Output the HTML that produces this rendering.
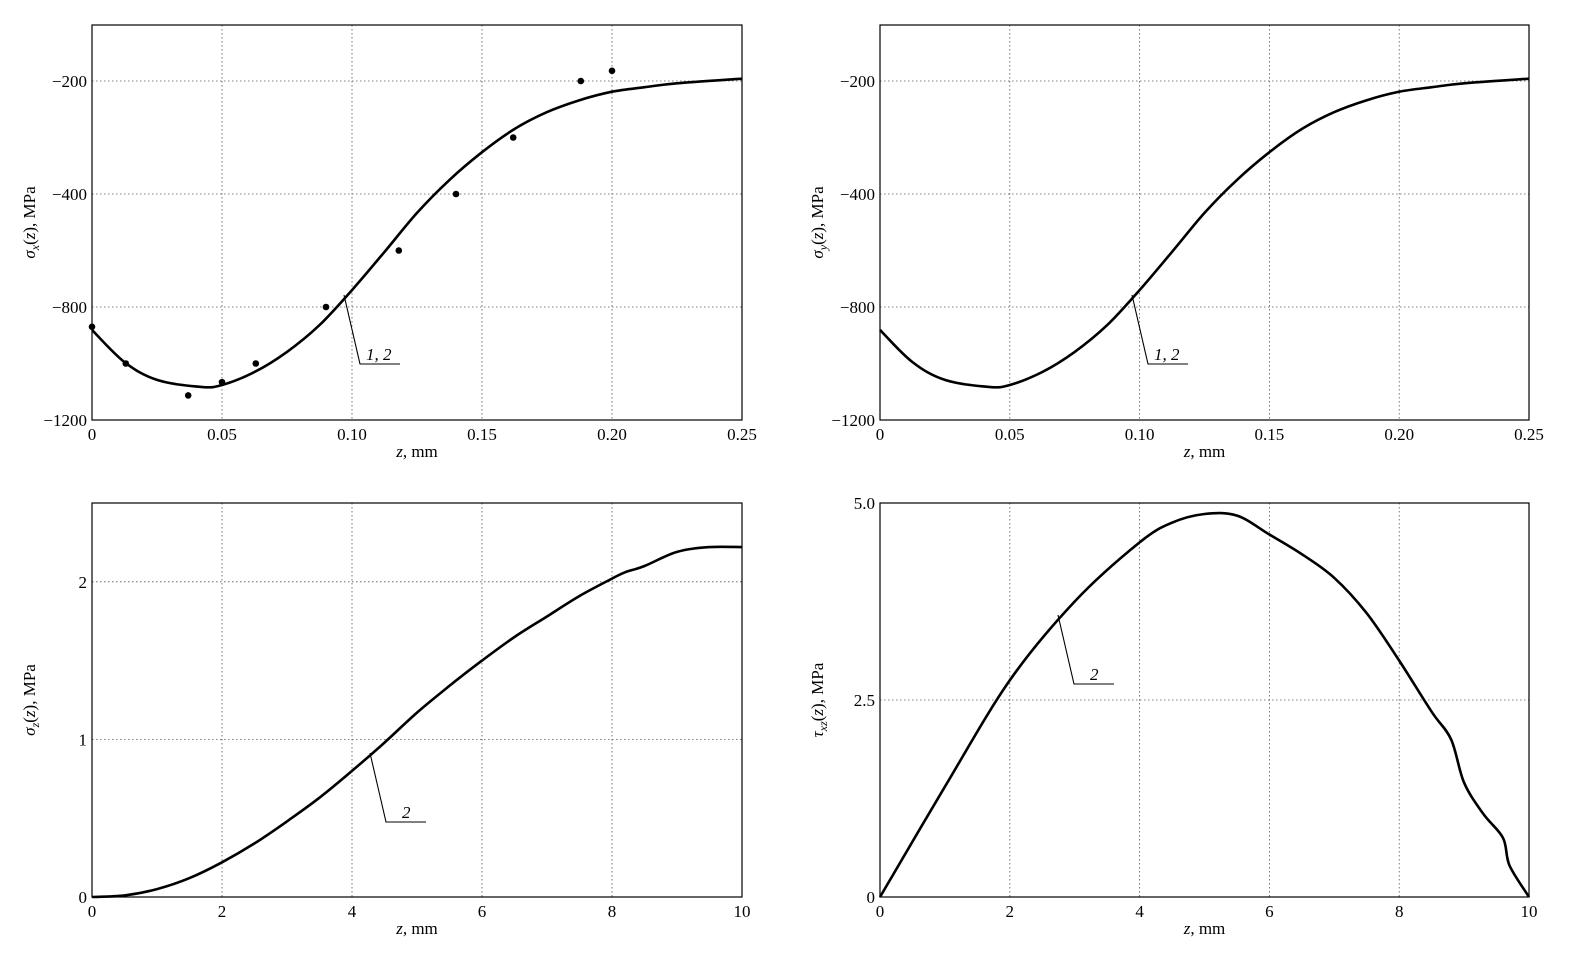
<!DOCTYPE html>
<html><head><meta charset="utf-8"><style>
body{margin:0;background:#fff}
svg{display:block;font-family:"Liberation Serif",serif}
</style></head><body>
<svg id="c" width="1582" height="968"></svg>
<script>
// sigma_x chart data
const sxZ=[0,0.0125,0.025,0.042,0.05,0.0625,0.075,0.0875,0.1,0.1125,0.125,0.1375,0.15,0.1625,0.175,0.1875,0.2,0.2125,0.225,0.25];
const sxV=[-881,-995,-1058,-1083,-1076,-1030,-959,-864,-740,-605,-467,-375,-326,-285,-255,-234,-219,-211,-204,-196];
const ptZ=[0,0.013,0.037,0.05,0.063,0.09,0.118,0.14,0.162,0.188,0.2];
const ptV=[-870,-1000,-1113,-1066,-1000,-800,-600,-400,-300,-200,-182];
const sTicksV=[-1200,-800,-400,-200];
const sTickLabels=["−1200","−800","−400","−200"];
const sxTicks=[0,0.05,0.1,0.15,0.2,0.25];
const sxTickLabels=["0","0.05","0.10","0.15","0.20","0.25"];
// sigma_z data
const szZ=[0,0.5,1,1.5,2,2.5,3,3.5,4,4.5,5,5.5,6,6.5,7,7.5,8,8.2,8.5,9,9.5,10];
const szV=[0,0.01,0.05,0.12,0.22,0.34,0.48,0.63,0.8,0.98,1.17,1.34,1.5,1.65,1.78,1.91,2.02,2.06,2.1,2.19,2.22,2.22];
const szTicks=[0,1,2];
// tau_xz data
const tZ=[0,1,2,3,4,4.5,5,5.5,6,6.5,7,7.5,8,8.5,8.8,9,9.3,9.6,9.7,10];
const tV=[0,1.4,2.75,3.75,4.5,4.75,4.86,4.84,4.6,4.35,4.05,3.6,3.0,2.35,2.0,1.45,1.05,0.75,0.4,0];
const tTicks=[0,2.5,5.0];
const tTickLabels=["0","2.5","5.0"];
const zTicks=[0,2,4,6,8,10];

const svg=document.getElementById('c');
const NS='http://www.w3.org/2000/svg';
function mk(t,a,parent){const e=document.createElementNS(NS,t);for(const k in a)e.setAttribute(k,a[k]);(parent||svg).appendChild(e);return e;}
function txt(s,a,name){const e=mk('text',a);e.textContent=s;return e;}

function sY(v){
  if(v<=-800)return 307+(-800-v)*113/400;
  if(v<=-400)return 194+(-400-v)*113/400;
  return 81+(-200-v)*113/200;
}
function smooth(P){
  let d='M'+P[0][0].toFixed(1)+','+P[0][1].toFixed(1);
  for(let i=0;i<P.length-1;i++){
    const p0=P[i-1]||P[i],p1=P[i],p2=P[i+1],p3=P[i+2]||P[i+1];
    const c1=[p1[0]+(p2[0]-p0[0])/6,p1[1]+(p2[1]-p0[1])/6];
    const c2=[p2[0]-(p3[0]-p1[0])/6,p2[1]-(p3[1]-p1[1])/6];
    d+=`C${c1[0].toFixed(1)},${c1[1].toFixed(1)} ${c2[0].toFixed(1)},${c2[1].toFixed(1)} ${p2[0].toFixed(1)},${p2[1].toFixed(1)}`;
  }
  return d;
}

function panel(o){
  const g=mk('g',{});
  
  
  const X=v=>o.x0+(v-o.xmin)/(o.xmax-o.xmin)*(o.x1-o.x0);
  o.xt.forEach((v,i)=>{const x=X(v);
    if(i>0&&i<o.xt.length-1){const l=mk('line',{x1:x,x2:x,y1:o.y0,y2:o.y1,stroke:'#555','stroke-width':0.8,'stroke-dasharray':'1.5,2.5'},g);}
    txt(o.xl[i],{x:x,y:o.y1+20,'font-size':17,'text-anchor':'middle'},'x-tick-label');
  });
  o.yt.forEach((v,i)=>{const y=o.Y(v);
    if(y>o.y0+1&&y<o.y1-1){const l=mk('line',{x1:o.x0,x2:o.x1,y1:y,y2:y,stroke:'#555','stroke-width':0.8,'stroke-dasharray':'1.5,2.5'},g);}
    txt(o.yl[i],{x:o.x0-5,y:y+6,'font-size':17,'text-anchor':'end'},'y-tick-label');
  });
  const r=mk('rect',{x:o.x0,y:o.y0,width:o.x1-o.x0,height:o.y1-o.y0,fill:'none',stroke:'#000','stroke-width':1.2},g);
  
  const pts=o.zs.map((z,i)=>[X(z),o.Y(o.vs[i])]);
  const p=mk('path',{d:smooth(pts),fill:'none',stroke:'#000','stroke-width':2.6,'stroke-linejoin':'round'},g);
  
  if(o.pz)o.pz.forEach((z,i)=>{const c=mk('circle',{cx:X(z),cy:o.Y(o.pv[i]),r:3.3,fill:'#000'},g);});
  const xl=mk('text',{x:(o.x0+o.x1)/2,y:o.y1+37,'font-size':17,'text-anchor':'middle'});
  xl.innerHTML='<tspan font-style="italic">z</tspan>, mm';
  
  const yl=mk('text',{transform:`translate(${o.x0-57},${(o.y0+o.y1)/2}) rotate(-90)`,'font-size':17,'text-anchor':'middle'});
  yl.innerHTML=o.ylab;
  
  const a=o.ann;
  const al=mk('path',{d:`M${a[0]},${a[1]}L${a[0]+16},${a[1]+69}L${a[0]+56},${a[1]+69}`,fill:'none',stroke:'#000','stroke-width':1.1},g);
  
  txt(o.at,{x:a[0]+a[2],y:a[1]+65,'font-size':17,'font-style':'italic'},'curve-annotation-label');
}
const sig=s=>`<tspan font-style="italic">σ</tspan><tspan font-size="12" dy="4" font-style="italic">${s}</tspan><tspan dy="-4">(</tspan><tspan font-style="italic">z</tspan>), MPa`;
panel({name:'sigma-x-chart',x0:92,x1:742,y0:25,y1:420,xmin:0,xmax:0.25,xt:sxTicks,xl:sxTickLabels,yt:sTicksV,yl:sTickLabels,Y:sY,zs:sxZ,vs:sxV,pz:ptZ,pv:ptV,ylab:sig('x'),ann:[344,295,22],at:'1, 2'});
panel({name:'sigma-y-chart',x0:880,x1:1529,y0:25,y1:420,xmin:0,xmax:0.25,xt:sxTicks,xl:sxTickLabels,yt:sTicksV,yl:sTickLabels,Y:sY,zs:sxZ,vs:sxV,ylab:sig('y'),ann:[1132,295,22],at:'1, 2'});
panel({name:'sigma-z-chart',x0:92,x1:742,y0:503,y1:897,xmin:0,xmax:10,xt:zTicks,xl:zTicks.map(String),yt:szTicks,yl:szTicks.map(String),Y:v=>897-v*157.6,zs:szZ,vs:szV,ylab:sig('z'),ann:[370,753,32],at:'2'});
panel({name:'tau-xz-chart',x0:880,x1:1529,y0:503,y1:897,xmin:0,xmax:10,xt:zTicks,xl:zTicks.map(String),yt:tTicks,yl:tTickLabels,Y:v=>897-v*78.8,zs:tZ,vs:tV,ylab:`<tspan font-style="italic">τ</tspan><tspan font-size="12" dy="4" font-style="italic">xz</tspan><tspan dy="-4">(</tspan><tspan font-style="italic">z</tspan>), MPa`,ann:[1058,615,32],at:'2'});
</script>
</body></html>
